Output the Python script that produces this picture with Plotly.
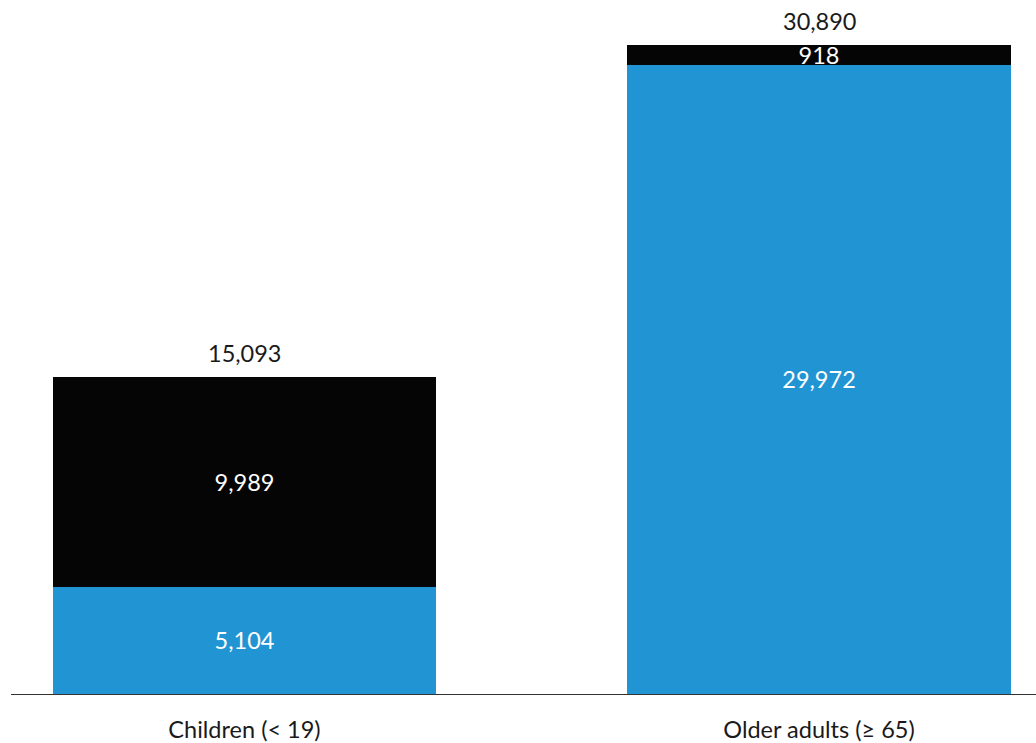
import plotly.graph_objects as go

categories = ["Children (< 19)", "Older adults (≥ 65)"]
lower_values = [5104, 29972]
upper_values = [9989, 918]
totals = [a + b for a, b in zip(lower_values, upper_values)]

BLUE = "#2195d3"
BLACK = "#050505"
FONT = "Lato, 'Open Sans', sans-serif"
FS = 23.5

fig = go.Figure()
fig.add_trace(go.Bar(
    x=categories, y=lower_values, marker_color=BLUE, marker_line_width=0,
    width=0.667, texttemplate="%{y:,}", textposition="inside",
    insidetextanchor="middle", textangle=0,
    textfont=dict(color="white", size=FS, family=FONT), showlegend=False,
))
fig.add_trace(go.Bar(
    x=categories, y=upper_values, marker_color=BLACK, marker_line_width=0,
    width=0.667, texttemplate="%{y:,}", textposition="inside",
    insidetextanchor="middle", textangle=0,
    textfont=dict(color="white", size=FS, family=FONT), showlegend=False,
))
for c, t in zip(categories, totals):
    fig.add_annotation(x=c, y=t, text=f"{t:,}", showarrow=False, yshift=24,
                       font=dict(size=FS, color="#1a1a1a", family=FONT))

fig.update_layout(
    barmode="stack", width=1036, height=743,
    margin=dict(l=11, r=0, t=0, b=49),
    plot_bgcolor="white", paper_bgcolor="white",
    uniformtext=dict(minsize=FS, mode="show"),
    font=dict(family=FONT, size=FS, color="#1a1a1a"),
)
fig.update_xaxes(range=[-0.4064, 1.3777], showline=True, linecolor="#333",
                 linewidth=1, ticks="", ticklabelstandoff=15,
                 tickfont=dict(size=FS, family=FONT, color="#1a1a1a"))
fig.update_yaxes(range=[0, 33050], visible=False, showgrid=False)

fig.write_html("out.html", config={"displayModeBar": False},
               post_script="document.body.style.margin='0';document.body.style.overflow='hidden';")
